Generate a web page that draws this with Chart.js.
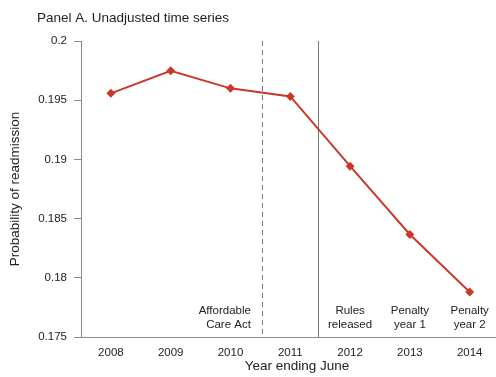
<!DOCTYPE html>
<html>
<head>
<meta charset="utf-8">
<script src="https://cdn.jsdelivr.net/npm/chart.js@4"></script>
<style>
  html, body { margin: 0; padding: 0; background: #ffffff; }
  #wrap { width: 496px; height: 377px; position: relative; }
</style>
</head>
<body>
<div id="wrap"><canvas id="c" width="496" height="377"></canvas></div>
<script>
// Year ending June
const years = ['2008', '2009', '2010', '2011', '2012', '2013', '2014'];
// Probability of readmission, unadjusted
const readmission = [0.19558, 0.19749, 0.19600, 0.19532, 0.18943, 0.18366, 0.17880];
const yTicks = [0.175, 0.18, 0.185, 0.19, 0.195, 0.2];
// Policy events placed between years (index positions on the x axis)
const eventLines = [
  { at: 2.525, dashed: true },
  { at: 3.46, dashed: false }
];
const eventNotes = [
  { at: 2.525, lines: ['Affordable', 'Care Act'], align: 'right' },
  { at: 4, lines: ['Rules', 'released'], align: 'center' },
  { at: 5, lines: ['Penalty', 'year 1'], align: 'center' },
  { at: 6, lines: ['Penalty', 'year 2'], align: 'center' }
];
const titleText = 'Panel A. Unadjusted time series';
const xTitle = 'Year ending June';
const yTitle = 'Probability of readmission';

const FONT = '"Liberation Sans", Arial, Helvetica, sans-serif';
const AXIS = '#8c8c8c';
const RED = '#c9392b';
const INK = '#222';

const overlay = {
  id: 'overlay',
  beforeDatasetsDraw(chart) {
    const { ctx, chartArea, scales } = chart;
    ctx.save();
    ctx.strokeStyle = '#7a7a7a';
    ctx.lineWidth = 1;
    eventLines.forEach(l => {
      const x = Math.round(scales.x.getPixelForValue(l.at)) + 0.5;
      ctx.setLineDash(l.dashed ? [5, 4] : []);
      ctx.beginPath();
      ctx.moveTo(x, chartArea.top);
      ctx.lineTo(x, chartArea.bottom);
      ctx.stroke();
    });
    ctx.setLineDash([]);
    ctx.fillStyle = INK;
    ctx.font = '11.5px ' + FONT;
    ctx.textBaseline = 'middle';
    eventNotes.forEach(n => {
      let x = scales.x.getPixelForValue(n.at);
      ctx.textAlign = n.align;
      if (n.align === 'right') x -= 11;
      n.lines.forEach((t, i) => {
        ctx.fillText(t, x, chartArea.bottom - 26 + i * 14);
      });
    });
    ctx.restore();
  },
  afterDraw(chart) {
    const { ctx, chartArea } = chart;
    ctx.save();
    ctx.fillStyle = '#1e1e1e';
    ctx.font = '13.5px ' + FONT;
    ctx.textAlign = 'left';
    ctx.textBaseline = 'middle';
    ctx.fillText(titleText, 37, 18);
    // axis titles
    ctx.fillStyle = INK;
    ctx.textAlign = 'center';
    ctx.fillText(xTitle, 297, 366);
    ctx.translate(15, (chartArea.top + chartArea.bottom) / 2);
    ctx.rotate(-Math.PI / 2);
    ctx.fillText(yTitle, 0, 0);
    ctx.restore();
  }
};

new Chart(document.getElementById('c'), {
  type: 'line',
  data: {
    datasets: [{
      data: readmission.map((v, i) => ({ x: i, y: v })),
      borderColor: RED,
      backgroundColor: RED,
      borderWidth: 2,
      pointStyle: 'rectRot',
      pointRadius: 4.5,
      pointHoverRadius: 4.5,
      pointBorderWidth: 0,
      tension: 0
    }]
  },
  options: {
    responsive: false,
    animation: false,
    devicePixelRatio: 1,
    layout: { autoPadding: false, padding: { top: 41, left: 0, right: 0, bottom: 0 } },
    plugins: { legend: { display: false }, tooltip: { enabled: false }, title: { display: false } },
    scales: {
      x: {
        type: 'linear',
        min: -0.5,
        max: 6.44,
        afterBuildTicks(scale) { scale.ticks = years.map((y, i) => ({ value: i })); },
        afterFit(scale) { scale.height = 40; },
        grid: { display: false, drawTicks: false },
        border: { display: true, color: AXIS, width: 1 },
        ticks: {
          padding: 9,
          color: INK,
          font: { family: FONT, size: 11.5 },
          maxRotation: 0,
          autoSkip: false,
          callback: (v) => years[v]
        }
      },
      y: {
        min: 0.175,
        max: 0.2,
        afterBuildTicks(scale) { scale.ticks = yTicks.map(v => ({ value: v })); },
        afterFit(scale) { scale.width = 81; },
        grid: { drawOnChartArea: false, drawTicks: true, tickLength: 7, color: AXIS },
        border: { display: true, color: AXIS, width: 1 },
        ticks: {
          padding: 7,
          color: INK,
          font: { family: FONT, size: 11.5 },
          callback: (v) => String(+v.toFixed(3))
        }
      }
    }
  },
  plugins: [overlay]
});
</script>
</body>
</html>
